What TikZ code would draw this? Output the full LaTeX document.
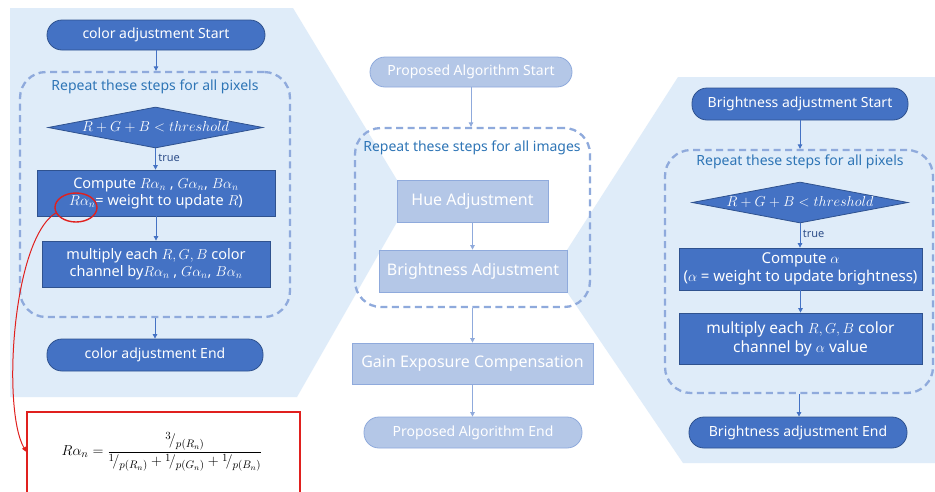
\documentclass[tikz,border=0pt]{standalone}
\usepackage{fontspec}
\setmainfont{Noto Sans}
\usetikzlibrary{shapes.geometric,arrows.meta}
\definecolor{dfill}{HTML}{4472C4}
\definecolor{dborder}{HTML}{2F528F}
\definecolor{ffill}{HTML}{B4C7E7}
\definecolor{fborder}{HTML}{8FAADC}
\definecolor{panel}{HTML}{DFECF9}
\definecolor{loopc}{HTML}{8FAADC}
\definecolor{lblue}{HTML}{2E75B6}
\definecolor{truec}{HTML}{2F4F8A}
\definecolor{redc}{HTML}{E0201E}
\tikzset{
  darkbox/.style={rectangle, fill=dfill, draw=dborder, line width=0.8pt, text=white, inner sep=0pt, align=center, font=\fontsize{14.5}{17}\selectfont},
  darkpill/.style={darkbox, rounded corners=15pt, font=\fontsize{14}{16}\selectfont},
  fadebox/.style={rectangle, fill=ffill, draw=fborder, line width=0.8pt, text=white, inner sep=0pt, align=center, font=\fontsize{16}{18}\selectfont},
  fadepill/.style={fadebox, rounded corners=15pt, font=\fontsize{14}{16}\selectfont},
  loopbox/.style={rectangle, draw=loopc, line width=2.3pt, dash pattern=on 7pt off 4.5pt, rounded corners=26pt, inner sep=0pt},
  looplbl/.style={text=lblue, inner sep=0pt, font=\fontsize{14}{16}\selectfont},
  diam/.style={diamond, fill=dfill, draw=dborder, line width=0.8pt, inner sep=0pt},
  diamtxt/.style={text=white, inner sep=0pt, font=\fontsize{14.5}{16}\selectfont},
  arr/.style={draw=dfill, line width=0.8pt, -{Triangle[length=4.5pt,width=4.5pt]}},
  farr/.style={draw=fborder, line width=0.8pt, -{Triangle[length=4.5pt,width=4.5pt]}},
  truelbl/.style={text=truec, font=\fontsize{11}{13}\selectfont\bfseries, inner sep=2.5pt},
}
\begin{document}
\begin{tikzpicture}[x=1pt,y=-1pt]
\clip (0,0) rectangle (935,491);
\fill[white] (0,0) rectangle (935,491);
% panels
\fill[panel] (10,8) -- (293,8) -- (397,180) -- (397,222) -- (297,397) -- (10,397) -- cycle;
\fill[panel] (678,77) -- (935,77) -- (935,463) -- (683,463) -- (567,292) -- (567,250) -- cycle;

% ---------- left: color adjustment ----------
\node[darkpill, minimum width=218pt, minimum height=30pt] (cs1) at (156,35) {color adjustment Start};
\node[loopbox, minimum width=270pt, minimum height=245pt] (loopL) at (155,194.5) {};
\node[looplbl] (lblL) at (155,87) {Repeat these steps for all pixels};
\node[diam, minimum width=215pt, minimum height=41pt] (d1) at (155.5,127.5) {};
\node[diamtxt] (d1t) at (d1) {$R+G+B<threshold$};
\node[darkbox, minimum width=238pt, minimum height=46pt] (c1) at (156,193)
  {Compute $R\alpha_n$ , $G\alpha_n$, $B\alpha_n$\\ $R\alpha_n$= weight to update $R$)};
\node[darkbox, minimum width=228pt, minimum height=46pt] (m1) at (156,264)
  {multiply each $R,G,B$ color\\channel by$R\alpha_n$ , $G\alpha_n$, $B\alpha_n$};
\node[darkpill, minimum width=216pt, minimum height=32pt] (ce1) at (155,355) {color adjustment End};
\draw[arr] (cs1.south) -- (cs1.south |- loopL.north);
\draw[arr] (d1.south) -- node[truelbl, right, pos=0.45] {true} (d1.south |- c1.north);
\draw[arr] (c1.south) -- (c1.south |- m1.north);
\draw[arr] (loopL.south) -- (loopL.south |- ce1.north);

% ---------- middle ----------
\node[fadepill, minimum width=202pt, minimum height=30pt] (ps) at (471,72) {Proposed Algorithm Start};
\node[loopbox, minimum width=235pt, minimum height=179pt] (loopM) at (472.5,217.5) {};
\node[looplbl] (lblM) at (472,148) {Repeat these steps for all images};
\node[fadebox, minimum width=151pt, minimum height=42pt] (hue) at (472.5,201) {Hue Adjustment};
\node[fadebox, minimum width=188pt, minimum height=42pt] (bri) at (473,271) {Brightness Adjustment};
\node[fadebox, minimum width=241pt, minimum height=41pt] (gain) at (472.5,363.5) {Gain Exposure Compensation};
\node[fadepill, minimum width=218pt, minimum height=31pt] (pe) at (473,432.5) {Proposed Algorithm End};
\draw[farr] (ps.south) -- (ps.south |- loopM.north);
\draw[farr] (hue.south) -- (hue.south |- bri.north);
\draw[farr] (loopM.south) -- (loopM.south |- gain.north);
\draw[farr] (gain.south) -- (gain.south |- pe.north);

% ---------- right: brightness adjustment ----------
\node[darkpill, minimum width=216pt, minimum height=32pt] (bs) at (800,104) {Brightness adjustment Start};
\node[loopbox, minimum width=268pt, minimum height=243pt] (loopR) at (799,271.5) {};
\node[looplbl] (lblR) at (800,162) {Repeat these steps for all pixels};
\node[diam, minimum width=216pt, minimum height=41pt] (d2) at (800,202.5) {};
\node[diamtxt] (d2t) at (d2) {$R+G+B<threshold$};
\node[darkbox, minimum width=243pt, minimum height=42pt, font=\fontsize{15}{18}\selectfont] (c2) at (800.5,269)
  {Compute $\alpha$\\($\alpha$ = weight to update brightness)};
\node[darkbox, minimum width=243pt, minimum height=51pt, font=\fontsize{15.5}{19}\selectfont] (m2) at (800.5,338.5)
  {multiply each $R,G,B$ color\\channel by $\alpha$ value};
\node[darkpill, minimum width=218pt, minimum height=31pt] (be) at (798,432.5) {Brightness adjustment End};
\draw[arr] (bs.south) -- (bs.south |- loopR.north);
\draw[arr] (d2.south) -- node[truelbl, right, pos=0.45] {true} (d2.south |- c2.north);
\draw[arr] (c2.south) -- (c2.south |- m2.north);
\draw[arr] (loopR.south) -- (loopR.south |- be.north);

% ---------- red callout ----------
\node[ellipse, draw=redc, line width=1.4pt, minimum width=42pt, minimum height=29pt, inner sep=0pt] (ell) at (76,207.5) {};
\node[rectangle, draw=redc, line width=1.2pt, fill=white, minimum width=273pt, minimum height=96pt, inner sep=0pt] (form) at (163.5,460) {};
\node[inner sep=0pt, font=\fontsize{15.5}{18}\selectfont] (formula) at (162,452)
  {$\displaystyle R\alpha_n=\frac{{}^{3}\!/_{p(R_n)}}{{}^{1}\!/_{p(R_n)}+{}^{1}\!/_{p(G_n)}+{}^{1}\!/_{p(B_n)}}$};
\draw[redc, line width=1pt, -{Triangle[length=5pt,width=4pt]}] (ell.195) .. controls (12,240) and (2,410) .. ([yshift=8pt]form.west);
\end{tikzpicture}
\end{document}
